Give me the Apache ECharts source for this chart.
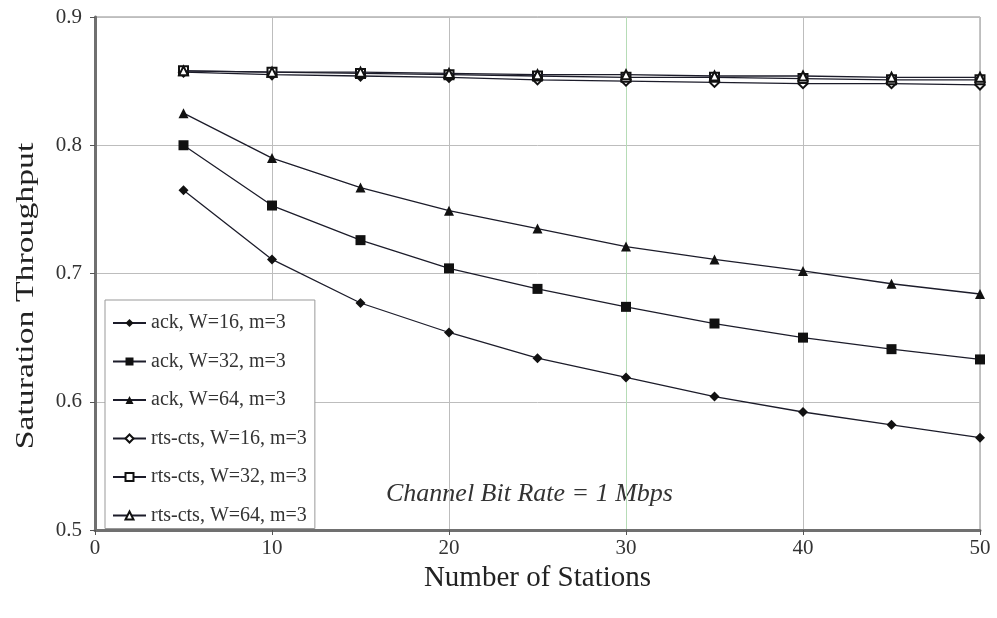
<!DOCTYPE html>
<html>
<head>
<meta charset="utf-8">
<script src="https://cdn.jsdelivr.net/npm/echarts@6/dist/echarts.min.js"></script>
<style>
  html, body { margin: 0; padding: 0; background: #fff; }
  #chart { width: 997px; height: 618px; }
</style>
</head>
<body>
<div id="chart"></div>
<script>
// Number of stations on the x axis
const stations = [5, 10, 15, 20, 25, 30, 35, 40, 45, 50];

// Saturation throughput, basic access (ack)
const ackW16 = [0.765, 0.711, 0.677, 0.654, 0.634, 0.619, 0.604, 0.592, 0.582, 0.572];
const ackW32 = [0.800, 0.753, 0.726, 0.704, 0.688, 0.674, 0.661, 0.650, 0.641, 0.633];
const ackW64 = [0.825, 0.790, 0.767, 0.749, 0.735, 0.721, 0.711, 0.702, 0.692, 0.684];

// Saturation throughput, RTS/CTS access
const rtsW16 = [0.857, 0.855, 0.854, 0.853, 0.851, 0.850, 0.849, 0.848, 0.848, 0.847];
const rtsW32 = [0.858, 0.857, 0.856, 0.855, 0.854, 0.853, 0.853, 0.852, 0.851, 0.851];
const rtsW64 = [0.858, 0.857, 0.857, 0.856, 0.855, 0.855, 0.854, 0.854, 0.853, 0.853];

const seriesNames = [
  'ack, W=16, m=3', 'ack, W=32, m=3', 'ack, W=64, m=3',
  'rts-cts, W=16, m=3', 'rts-cts, W=32, m=3', 'rts-cts, W=64, m=3'
];
const seriesData = [ackW16, ackW32, ackW64, rtsW16, rtsW32, rtsW64];
const symbols = ['diamond', 'rect', 'triangle', 'emptyDiamond', 'emptyRect', 'emptyTriangle'];
const symbolSizes = [10, 10, 10, 9, 9, 9];

const yTicks = [0.5, 0.6, 0.7, 0.8, 0.9];
const xTicks = [0, 10, 20, 30, 40, 50];

const serif = '"Liberation Serif", "DejaVu Serif", serif';
const lineColor = '#1c1c2a';

const chart = echarts.init(document.getElementById('chart'));

chart.setOption({
  animation: false,
  backgroundColor: '#fff',
  grid: {
    left: 95, right: 17, top: 17, bottom: 88,
    show: true, borderColor: '#8a8a8a', borderWidth: 1
  },
  legend: {
    orient: 'vertical',
    left: 105, top: 300,
    padding: [13, 8, 3, 7],
    itemGap: 18.5,
    itemWidth: 33, itemHeight: 10,
    backgroundColor: '#fff',
    borderColor: '#999',
    borderWidth: 1,
    textStyle: { fontFamily: serif, fontSize: 20, color: '#333' },
    data: seriesNames
  },
  xAxis: {
    type: 'value',
    min: xTicks[0], max: xTicks[xTicks.length - 1], interval: 10,
    name: 'Number of Stations',
    nameLocation: 'middle', nameGap: 34,
    nameTextStyle: { fontFamily: serif, fontSize: 29, color: '#222' },
    axisLine: { show: true, onZero: false, lineStyle: { color: '#707070', width: 3 } },
    axisTick: { show: true, inside: false, length: 5, lineStyle: { color: '#555' } },
    axisLabel: { fontFamily: serif, fontSize: 21, color: '#333', margin: 8 },
    splitLine: {
      show: true,
      lineStyle: { color: ['#bdbdbd', '#bdbdbd', '#bdbdbd', '#b6dcb6', '#bdbdbd', '#bdbdbd'], width: 1 }
    }
  },
  yAxis: {
    type: 'value',
    min: yTicks[0], max: yTicks[yTicks.length - 1], interval: 0.1,
    axisLine: { show: true, onZero: false, lineStyle: { color: '#707070', width: 3 } },
    axisTick: { show: true, inside: false, length: 5, lineStyle: { color: '#555' } },
    axisLabel: {
      fontFamily: serif, fontSize: 21, color: '#333', margin: 13,
      formatter: v => v.toFixed(1)
    },
    splitLine: { show: true, lineStyle: { color: '#bdbdbd', width: 1 } }
  },
  graphic: [
    {
      // y-axis title, drawn in a tall, narrow serif
      type: 'text',
      x: 26, y: 296,
      rotation: Math.PI / 2,
      scaleX: 1.35,
      style: {
        text: 'Saturation Throughput',
        font: '25px "Liberation Serif", serif',
        fill: '#222',
        align: 'center',
        verticalAlign: 'middle'
      }
    },
    {
      type: 'text',
      left: 386, top: 481,
      style: {
        text: 'Channel Bit Rate = 1 Mbps',
        font: 'italic 26px "Liberation Serif", serif',
        fill: '#333'
      }
    }
  ],
  series: seriesNames.map((name, i) => ({
    name: name,
    type: 'line',
    data: stations.map((x, j) => [x, seriesData[i][j]]),
    symbol: symbols[i],
    symbolSize: symbolSizes[i],
    showSymbol: true,
    lineStyle: { color: lineColor, width: 1.3 },
    itemStyle: { color: '#111', borderWidth: i < 3 ? 0 : 1.3 },
    z: 3 + i
  }))
});
</script>
</body>
</html>
